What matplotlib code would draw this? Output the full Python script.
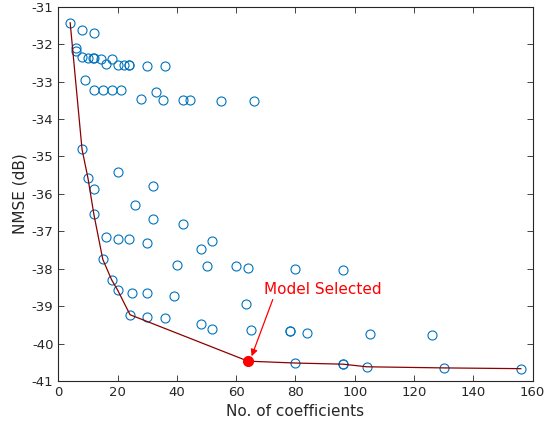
import matplotlib.pyplot as plt

# Все кандидаты: число коэффициентов и NMSE (дБ)
coefs = [4, 8, 12, 6, 6, 8, 10, 11.6, 12.2, 14.3, 18, 16, 20, 22, 24, 24, 30, 36,
         9, 12, 15, 18, 21, 28, 33, 35.3, 42, 44.4, 55, 66,
         8, 10, 20, 12, 32, 26, 12, 32, 42, 16, 20, 24, 30, 52, 48, 15,
         40, 50, 60, 64, 80, 96, 18, 20, 25, 30, 39, 63.3,
         24.2, 30, 36, 48, 52, 65, 78, 78, 84, 105, 126,
         64, 80, 96, 96, 104, 130, 156]
nmse = [-31.43, -31.62, -31.69, -32.11, -32.18, -32.35, -32.37, -32.37, -32.36, -32.40,
        -32.40, -32.52, -32.56, -32.57, -32.56, -32.56, -32.59, -32.59,
        -32.97, -33.22, -33.22, -33.22, -33.23, -33.46, -33.29, -33.48, -33.50, -33.50,
        -33.52, -33.52,
        -34.81, -35.58, -35.41, -35.88, -35.80, -36.30, -36.55, -36.68, -36.81, -37.16,
        -37.20, -37.20, -37.32, -37.26, -37.47, -37.75,
        -37.91, -37.93, -37.93, -37.99, -38.02, -38.03, -38.30, -38.57, -38.64, -38.65,
        -38.74, -38.93,
        -39.23, -39.30, -39.32, -39.47, -39.60, -39.64, -39.67, -39.66, -39.72, -39.75,
        -39.76,
        -40.47, -40.52, -40.55, -40.55, -40.62, -40.65, -40.67]

# Фронт Парето
front_coefs = [4, 8, 10, 12, 15, 18, 20, 24.2, 64, 80, 96, 104, 130, 156]
front_nmse = [-31.43, -34.81, -35.58, -36.55, -37.75, -38.30, -38.57, -39.23,
              -40.47, -40.52, -40.55, -40.62, -40.65, -40.67]

# Выбранная модель
sel_coefs = 64
sel_nmse = -40.47

plt.rcParams['font.family'] = 'DejaVu Sans'
plt.rcParams['axes.unicode_minus'] = False
fig = plt.figure(figsize=(5.46, 4.34), dpi=100)
ax = fig.add_axes([0.1068, 0.1221, 0.8688, 0.8625])

ax.plot(coefs, nmse, 'o', mfc='none', mec='#0072BD', ms=6.5, mew=0.8, linestyle='none')
ax.plot(front_coefs, front_nmse, color='#8B0000', lw=0.9)
ax.plot(sel_coefs, sel_nmse, 'o', color='red', ms=7)

ax.annotate("Model Selected", xy=(sel_coefs + 1.2, sel_nmse + 0.13), xytext=(69.5, -38.55),
            color='red', fontsize=11, va='center', ha='left',
            arrowprops=dict(arrowstyle='-|>', color='red', lw=0.9, mutation_scale=10,
                            shrinkA=0, shrinkB=0, relpos=(0.08, 0.0)))

ax.set_xlim(0, 160)
ax.set_ylim(-41, -31)
ax.set_xticks(range(0, 161, 20))
ax.set_yticks(range(-41, -30))
ax.set_xlabel("No. of coefficients", fontsize=11, color='#262626')
ax.set_ylabel("NMSE (dB)", fontsize=11, color='#262626', labelpad=3)
ax.tick_params(direction='in', top=True, right=True, length=4, width=0.6,
               colors='#262626', labelsize=9.5)
for s in ax.spines.values():
    s.set_color('#262626')
    s.set_linewidth(0.8)

fig.savefig('out.png', dpi=100)
